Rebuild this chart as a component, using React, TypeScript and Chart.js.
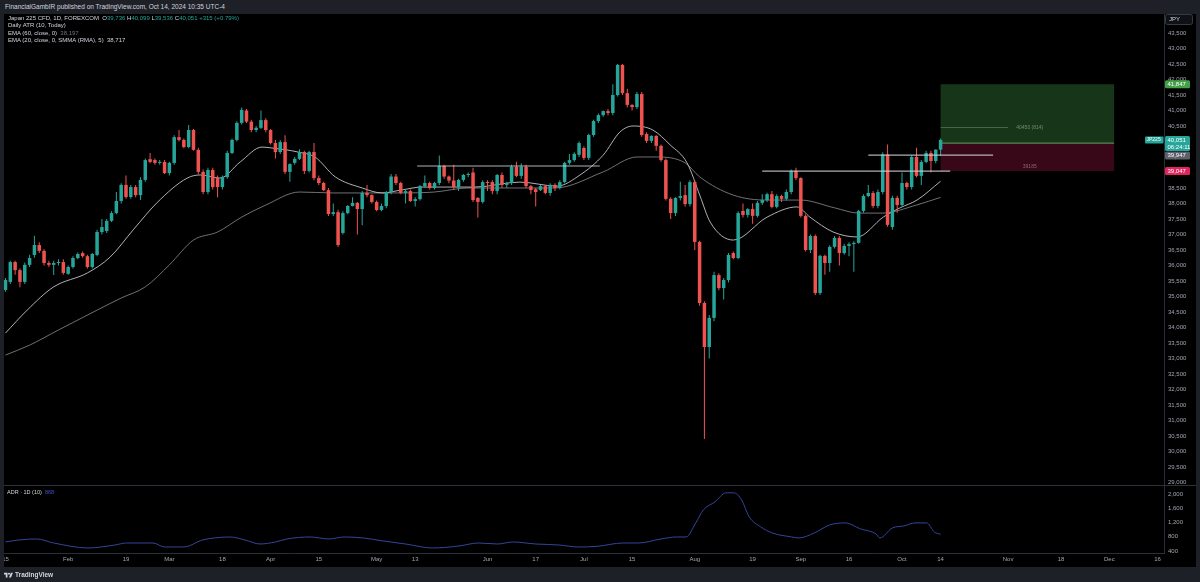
import React, { useEffect, useRef } from "react";
import { Chart, registerables } from "chart.js";

Chart.register(...registerables);

const FONT = '"Liberation Sans", Arial, Helvetica, sans-serif';
const UP = "#26a69a";
const DOWN = "#ef5350";
const TICK = "#a3a6af";
const BORDER = "#2a2e39";

// ---- daily OHLC, Japan 225 CFD, Jan 15 .. Oct 14 2024 (one per trading day) ----
const opens = [
  35210, 35470, 36110, 35850, 35470, 36020, 36340, 36660, 36470, 36080,
  36020, 36080, 36110, 35730, 35950, 36240, 36400, 36300, 35950, 36340,
  37080, 37110, 37440, 37690, 38080, 38600, 38210, 38530, 38270, 38760,
  39430, 39400, 39310, 39340, 38980, 39310, 40140, 40050, 39820, 40370,
  39730, 39020, 38370, 39080, 38820, 38530, 38850, 39630, 40050, 40600,
  41000, 40640, 40370, 40440, 40690, 40370, 39950, 39660, 39980, 39020,
  39310, 39440, 39660, 39050, 39660, 38820, 38660, 38430, 37660, 37720,
  37050, 37690, 37920, 38020, 37820, 38340, 38270, 38050, 37790, 37920,
  38370, 38870, 38660, 38340, 38400, 38080, 38140, 38560, 38660, 38500,
  38660, 39210, 38870, 38740, 38530, 38760, 38920, 39000, 38180, 38050,
  38690, 38690, 38400, 38920, 38600, 38660, 39180, 38890, 39180, 38560,
  38460, 38430, 38560, 38340, 38600, 38500, 38690, 39310, 39400, 39570,
  39790, 39470, 40210, 40660, 40850, 40980, 40920, 41500, 42470, 41560,
  41180, 41110, 41530, 40240, 40020, 40180, 39860, 39400, 38150, 37690,
  38180, 38270, 37980, 38690, 36760, 34790, 33370, 34310, 35690, 35270,
  35530, 36400, 36240, 37760, 37630, 37820, 37600, 38020, 38110, 38300,
  37890, 38240, 38150, 38370, 39050, 38820, 37600, 36500, 36950, 35110,
  36310, 36080, 36600, 36890, 36400, 36630, 36690, 36730, 37760, 38240,
  38340, 37920, 38370, 39580, 37240, 38180, 37950, 38660, 38530, 39500,
  38890, 39340, 39630, 39370, 39736,
];
const highs = [
  35600, 36150, 36150, 35900, 36100, 36350, 36960, 36750, 36520, 36150,
  36150, 36200, 36200, 36000, 36300, 36420, 36450, 36350, 36400, 37150,
  37500, 37500, 37750, 38370, 38650, 38900, 38600, 38600, 38850, 39450,
  39630, 39450, 39400, 39400, 39350, 40200, 40370, 40100, 40530, 40400,
  39800, 39100, 39150, 39150, 38900, 38900, 39700, 40100, 40650, 41100,
  41050, 40700, 40500, 41000, 40750, 40400, 40050, 40050, 40200, 39300,
  39500, 39750, 39700, 39700, 39950, 38900, 38700, 38500, 38000, 37800,
  37750, 37950, 38200, 38050, 38400, 38600, 38300, 38100, 38000, 38400,
  38950, 38950, 38700, 38450, 38450, 38200, 38600, 38900, 38700, 38700,
  39550, 39250, 38900, 39250, 38800, 38950, 39000, 39150, 38200, 38750,
  38750, 38750, 38950, 39000, 38700, 39250, 39350, 39300, 39250, 38600,
  38500, 38600, 38600, 38650, 38650, 38750, 39350, 39600, 39650, 40000,
  39850, 40250, 40700, 40900, 41000, 41050, 41850, 42500, 42500, 41700,
  41200, 41600, 41600, 40300, 40200, 40200, 39900, 39450, 38200, 38200,
  38700, 38600, 38750, 38750, 36800, 34850, 34400, 35800, 35750, 35600,
  36400, 36450, 37750, 38000, 37850, 38000, 38080, 38300, 38350, 38400,
  38300, 38280, 38450, 39100, 39150, 38850, 37650, 37000, 37000, 36350,
  36350, 36650, 36950, 36950, 36700, 36750, 36780, 37800, 38300, 38600,
  38400, 38450, 39650, 39900, 38250, 38250, 39000, 38700, 39550, 39800,
  39400, 39700, 39700, 39750, 40099,
];
const lows = [
  35150, 35400, 35700, 35300, 35400, 35950, 36250, 36400, 36000, 35950,
  35690, 36000, 35700, 35700, 35900, 36200, 36250, 35900, 35900, 36300,
  37000, 37050, 37400, 37650, 38000, 38150, 38150, 38200, 38110, 38700,
  39300, 39250, 39250, 38950, 38900, 39250, 40000, 39780, 39780, 39700,
  38950, 38300, 38300, 38450, 38200, 38450, 38800, 39600, 40000, 40550,
  40600, 40300, 40300, 40400, 40300, 39900, 39450, 39600, 38950, 38700,
  39250, 39400, 38950, 39000, 38750, 38600, 38400, 37600, 37600, 36600,
  37000, 37650, 37900, 37000, 37300, 38200, 38000, 37750, 37750, 37850,
  38300, 38600, 38300, 38000, 38050, 37900, 38100, 38500, 38450, 38450,
  38600, 38800, 38650, 38450, 38400, 38700, 38850, 38050, 37550, 38000,
  38400, 38300, 38300, 38500, 38500, 38600, 38850, 38800, 38500, 38300,
  37900, 38400, 38300, 38250, 38400, 38450, 38650, 39250, 39350, 39500,
  39400, 39400, 40150, 40600, 40800, 40850, 40850, 41450, 41500, 41100,
  41000, 41050, 40150, 39950, 39950, 39700, 39350, 38100, 37500, 37600,
  38100, 37900, 37900, 36500, 34700, 30400, 33000, 34200, 35200, 34900,
  35450, 36200, 36200, 37550, 37550, 37350, 37550, 37950, 38050, 37850,
  37850, 38050, 38100, 38300, 38750, 37550, 36450, 36400, 35050, 35050,
  35700, 35800, 36550, 36000, 36350, 36300, 35800, 36700, 37700, 38200,
  37850, 37850, 38300, 37250, 37150, 37700, 37900, 38450, 38450, 38850,
  38600, 39300, 39000, 39300, 39536,
];
const closes = [
  35530, 36110, 35850, 35470, 36020, 36240, 36660, 36470, 36080, 36020,
  36080, 36110, 35760, 35950, 36240, 36370, 36300, 35950, 36370, 37080,
  37240, 37440, 37690, 38080, 38600, 38210, 38530, 38270, 38760, 39400,
  39340, 39310, 39340, 38980, 39310, 40140, 40050, 39820, 40370, 39730,
  39020, 38370, 39080, 38530, 38530, 38850, 39630, 40050, 40600, 41020,
  40640, 40370, 40440, 40690, 40370, 39950, 39660, 39980, 39020, 39270,
  39440, 39660, 39050, 39660, 38820, 38660, 38430, 37660, 37720, 36660,
  37690, 37920, 38020, 37820, 38340, 38270, 38050, 37790, 37920, 38370,
  38870, 38660, 38340, 38400, 38080, 38140, 38560, 38660, 38500, 38660,
  39210, 38870, 38740, 38530, 38760, 38920, 38950, 38110, 38050, 38690,
  38660, 38400, 38920, 38600, 38660, 39180, 38890, 39180, 38560, 38430,
  38370, 38560, 38340, 38600, 38500, 38690, 39310, 39400, 39600, 39950,
  39470, 40210, 40660, 40850, 40980, 40920, 41500, 42470, 41560, 41180,
  41110, 41530, 40210, 40020, 40180, 39860, 39400, 38150, 37690, 38180,
  38240, 37980, 38690, 36760, 34790, 33370, 34310, 35690, 35270, 35530,
  36340, 36240, 37690, 37630, 37820, 37600, 38020, 38110, 38300, 37890,
  38240, 38150, 38370, 39050, 38820, 37600, 36500, 36950, 35110, 36310,
  36080, 36600, 36890, 36400, 36630, 36690, 36730, 37760, 38240, 38340,
  37920, 38370, 39580, 37310, 38180, 37950, 38660, 38530, 39500, 38890,
  39340, 39630, 39370, 39736, 40051,
];

// ---- EMA (60) (bar index, value) ----
const ema60Idx = [0, 5, 11, 19, 24, 29, 34, 39, 44, 49, 54, 61, 68, 75, 82, 89, 96, 114, 124, 131, 135, 141, 144, 151, 158, 165, 172, 177, 182, 189, 194];
const ema60Val = [33110, 33430, 33920, 34560, 34950, 35310, 36020, 36820, 37080, 37560, 37950, 38370, 38340, 38340, 38340, 38370, 38500, 38500, 39020, 39500, 39500, 39310, 38860, 38270, 38110, 38110, 37860, 37690, 37690, 37950, 38197];

// ---- EMA (20) smoothed SMMA 5 ----
const ema20Idx = [0, 4.5, 10, 17, 21.7, 26.5, 31.4, 37.7, 40.4, 44.5, 48.7, 53.2, 55.3, 60.7, 64.2, 68.4, 74, 78.1, 82.3, 86.4, 91.8, 97.4, 106.7, 114.4, 119.2, 124, 127.5, 130.2, 134.3, 137.9, 141.4, 144.1, 146.2, 151, 158, 164.2, 166.9, 171.7, 176.7, 182.1, 185.6, 189.1, 194];
const ema20Val = [33820, 34560, 35310, 35760, 36270, 37150, 38020, 38820, 38920, 38820, 39340, 39820, 39790, 39660, 39500, 38860, 38500, 38340, 38440, 38530, 38530, 38530, 38690, 38560, 38920, 39560, 40310, 40500, 40370, 39890, 39310, 38240, 37400, 36820, 37560, 37890, 37560, 37080, 36920, 37560, 37860, 38110, 38717];

// ---- ADR 1D (10) ----
const adrIdx = [0, 2.8, 6.4, 10, 17.1, 22.7, 25.1, 30.6, 33, 37, 40.9, 43.3, 46.5, 49.7, 52.8, 56, 58.4, 63.2, 67.1, 70.3, 74.3, 78.3, 83, 88.6, 94.1, 98.1, 102.1, 105.2, 110, 114.8, 118.8, 122.7, 128.1, 131.3, 136, 139.2, 141.2, 143.2, 144.8, 147.2, 149.5, 151.1, 152.7, 154.3, 156.7, 159.1, 163.1, 164.6, 167.8, 171, 174.2, 177.4, 180.6, 181.4, 184, 186.4, 188.7, 191.1, 192.7, 194];
const adrVal = [654, 710, 738, 625, 485, 569, 625, 625, 513, 513, 710, 766, 794, 710, 597, 654, 738, 794, 738, 794, 766, 682, 597, 485, 541, 625, 597, 654, 597, 569, 513, 530, 625, 625, 738, 794, 794, 1189, 1555, 1780, 2034, 2034, 1837, 1358, 1076, 907, 794, 766, 907, 1132, 1189, 1020, 879, 766, 1048, 1104, 1189, 1189, 935, 868];

// ---- axis ticks ----
const priceTickValues = [
  29000, 29500, 30000, 30500, 31000, 31500, 32000, 32500, 33000, 33500,
  34000, 34500, 35000, 35500, 36000, 36500, 37000, 37500, 38000, 38500,
  39000, 39500, 40000, 40500, 41000, 41500, 42000, 42500, 43000, 43500,
];
const adrTickValues = [400, 800, 1200, 1600, 2000];
const dateTickIdx = [0, 13, 25, 34, 45, 55, 65, 77, 85, 100, 110, 120, 130, 143, 155, 165, 175, 186, 194, 208, 219, 229, 239];
const dateTickLabels = ["15", "Feb", "19", "Mar", "18", "Apr", "15", "May", "13", "Jun", "17", "Jul", "15", "Aug", "19", "Sep", "16", "Oct", "14", "Nov", "18", "Dec", "16"];

// ---- drawn horizontal lines ----
const hLineFrom = [85.4, 157, 179];
const hLineTo = [123.3, 196, 204.9];
const hLinePrice = [39210, 39047, 39560];

// ---- long position tool ----
const posStart = 194;
const posEnd = 230;
const posTarget = 41847;
const posEntry = 39947;
const posStop = 39047;
const posNotePrice = 40450;
const posNoteText = "40450 (814)";
const posStopNotePrice = 39180;
const posStopNoteText = "39185";
const countdown = "06:24:11";

const X_MIN = -0.31;
const X_MAX = 240.35;
const Y_MIN = 28918;
const Y_MAX = 44113;
const ADR_MIN = 344;
const ADR_MAX = 2225;

const fmt = (v: number) => Math.round(v).toLocaleString("en-US");

const positionPlugin = {
  id: "positionTool",
  beforeDatasetsDraw(chart: any) {
    const { ctx, chartArea, scales } = chart;
    const x = scales.x;
    const y = scales.y;
    const x0 = x.getPixelForValue(posStart);
    const x1 = x.getPixelForValue(posEnd);
    const yT = y.getPixelForValue(posTarget);
    const yE = y.getPixelForValue(posEntry);
    const yS = y.getPixelForValue(posStop);
    ctx.save();
    ctx.beginPath();
    ctx.rect(chartArea.left, chartArea.top, chartArea.right - chartArea.left, chartArea.bottom - chartArea.top);
    ctx.clip();
    ctx.fillStyle = "rgba(76,175,80,0.30)";
    ctx.fillRect(x0, yT, x1 - x0, yE - yT);
    ctx.fillStyle = "rgba(233,30,99,0.24)";
    ctx.fillRect(x0, yE, x1 - x0, yS - yE);
    ctx.strokeStyle = "rgba(110,170,110,0.9)";
    ctx.lineWidth = 1;
    ctx.beginPath();
    ctx.moveTo(x0, yE);
    ctx.lineTo(x1, yE);
    ctx.stroke();
    const yN = y.getPixelForValue(posNotePrice);
    ctx.strokeStyle = "rgba(140,160,140,0.45)";
    ctx.beginPath();
    ctx.moveTo(x0, yN);
    ctx.lineTo(x.getPixelForValue(208), yN);
    ctx.stroke();
    ctx.font = `5px ${FONT}`;
    ctx.textBaseline = "middle";
    ctx.textAlign = "center";
    ctx.fillStyle = "rgba(150,165,150,0.75)";
    ctx.fillText(posNoteText, x.getPixelForValue(212.5), yN);
    ctx.fillStyle = "rgba(170,130,145,0.75)";
    ctx.fillText(posStopNoteText, x.getPixelForValue(212.5), y.getPixelForValue(posStopNotePrice));
    ctx.restore();
  },
};

const labelPlugin = {
  id: "priceLabels",
  afterDraw(chart: any) {
    const { ctx, chartArea, scales } = chart;
    const y = scales.y;
    const ax = chartArea.right + 1;
    const w = 25;
    ctx.save();
    ctx.font = `6px ${FONT}`;
    ctx.textBaseline = "middle";
    ctx.textAlign = "left";
    const box = (top: number, h: number, bg: string, lines: string[], fg: string) => {
      ctx.fillStyle = bg;
      ctx.beginPath();
      ctx.roundRect(ax, top, w, h, 1.5);
      ctx.fill();
      ctx.fillStyle = fg;
      lines.forEach((t, i) => ctx.fillText(t, ax + 2.5, top + 4 + i * 7));
    };
    const last = closes.length - 1;
    const yTg = y.getPixelForValue(posTarget);
    box(yTg - 4, 8, "#43a047", [fmt(posTarget)], "#ffffff");
    const yC = y.getPixelForValue(closes[last]);
    const cTop = yC - 4;
    box(cTop, 15, UP, [fmt(closes[last]), countdown], "#ffffff");
    const yE = y.getPixelForValue(posEntry);
    const eTop = Math.max(yE - 4, cTop + 15.5);
    box(eTop, 8, "#5d606b", [fmt(posEntry)], "#ffffff");
    const yS = y.getPixelForValue(posStop);
    box(yS - 4, 8, "#e0245e", [fmt(posStop)], "#ffffff");
    ctx.fillStyle = UP;
    ctx.beginPath();
    ctx.roundRect(chartArea.right - 19, yC - 3.5, 18.5, 7, 1);
    ctx.fill();
    ctx.fillStyle = "#ffffff";
    ctx.font = `5px ${FONT}`;
    ctx.fillText("JP225", chartArea.right - 17.5, yC);
    ctx.font = `6px ${FONT}`;
    ctx.fillStyle = "#0f1117";
    ctx.strokeStyle = "#363a45";
    ctx.beginPath();
    ctx.roundRect(ax + 0.5, 0.5, 27, 10, 2);
    ctx.fill();
    ctx.stroke();
    ctx.fillStyle = "#d1d4dc";
    ctx.fillText("JPY", ax + 4, 5.8);
    ctx.restore();
  },
};

export default function App() {
  const mainRef = useRef<HTMLCanvasElement>(null);
  const adrRef = useRef<HTMLCanvasElement>(null);

  useEffect(() => {
    const idx = closes.map((_, i) => i);
    const colors = closes.map((c, i) => (c >= opens[i] ? UP : DOWN));
    const wickData = idx.map((i) => ({ x: i, y: [lows[i], highs[i]] }));
    const bodyData = idx.map((i) => ({ x: i, y: [opens[i], closes[i]] }));
    const hLineSets = hLinePrice.map((p, k) => ({
      type: "line" as const,
      data: [
        { x: hLineFrom[k], y: p },
        { x: hLineTo[k], y: p },
      ],
      borderColor: "rgba(205,208,215,0.85)",
      borderWidth: 1.2,
      pointRadius: 0,
      order: 0,
    }));

    const main = new Chart(mainRef.current as HTMLCanvasElement, {
      type: "bar",
      data: {
        datasets: [
          ...hLineSets,
          {
            type: "bar",
            data: bodyData as any,
            backgroundColor: colors,
            barThickness: 3.5,
            minBarLength: 1,
            grouped: false,
            borderWidth: 0,
            inflateAmount: 0,
            order: 1,
          } as any,
          {
            type: "bar",
            data: wickData as any,
            backgroundColor: colors,
            barThickness: 1,
            grouped: false,
            borderWidth: 0,
            inflateAmount: 0,
            order: 2,
          } as any,
          {
            type: "line",
            data: ema20Idx.map((x, i) => ({ x, y: ema20Val[i] })),
            borderColor: "rgba(205,207,212,0.85)",
            borderWidth: 1,
            pointRadius: 0,
            cubicInterpolationMode: "monotone",
            order: 3,
          } as any,
          {
            type: "line",
            data: ema60Idx.map((x, i) => ({ x, y: ema60Val[i] })),
            borderColor: "rgba(130,132,140,0.85)",
            borderWidth: 1,
            pointRadius: 0,
            cubicInterpolationMode: "monotone",
            order: 4,
          } as any,
        ],
      },
      options: {
        animation: false,
        responsive: false,
        maintainAspectRatio: false,
        devicePixelRatio: 1,
        events: [],
        layout: { padding: 0 },
        plugins: { legend: { display: false }, tooltip: { enabled: false } },
        scales: {
          x: { type: "linear", min: X_MIN, max: X_MAX, display: false, offset: false },
          y: {
            type: "linear",
            position: "right",
            min: Y_MIN,
            max: Y_MAX,
            grid: { display: false, drawTicks: false },
            border: { display: true, color: BORDER },
            ticks: {
              autoSkip: false,
              padding: 4,
              color: TICK,
              font: { size: 6, family: FONT },
              callback: (v: any) => fmt(Number(v)),
            },
            afterBuildTicks: (s: any) => {
              s.ticks = priceTickValues.map((v) => ({ value: v }));
            },
            afterFit: (s: any) => {
              s.width = 32;
              s.paddingTop = 0;
              s.paddingBottom = 0;
            },
          },
        },
      } as any,
      plugins: [positionPlugin, labelPlugin],
    });

    const adr = new Chart(adrRef.current as HTMLCanvasElement, {
      type: "line",
      data: {
        datasets: [
          {
            data: adrIdx.map((x, i) => ({ x, y: adrVal[i] })),
            borderColor: "#34459a",
            borderWidth: 1,
            pointRadius: 0,
            cubicInterpolationMode: "monotone",
          },
        ],
      },
      options: {
        animation: false,
        responsive: false,
        maintainAspectRatio: false,
        devicePixelRatio: 1,
        events: [],
        layout: { padding: 0 },
        plugins: { legend: { display: false }, tooltip: { enabled: false } },
        scales: {
          x: {
            type: "linear",
            min: X_MIN,
            max: X_MAX,
            offset: false,
            grid: { display: false, drawTicks: false },
            border: { display: true, color: BORDER },
            ticks: {
              autoSkip: false,
              maxRotation: 0,
              padding: 3,
              color: TICK,
              font: { size: 6, family: FONT },
              callback: (_v: any, i: number) => dateTickLabels[i] ?? "",
            },
            afterBuildTicks: (s: any) => {
              s.ticks = dateTickIdx.map((v) => ({ value: v }));
            },
            afterFit: (s: any) => {
              s.height = 14;
              s.paddingLeft = 0;
              s.paddingRight = 0;
            },
          },
          y: {
            type: "linear",
            position: "right",
            min: ADR_MIN,
            max: ADR_MAX,
            grid: { display: false, drawTicks: false },
            border: { display: true, color: BORDER },
            ticks: {
              autoSkip: false,
              padding: 4,
              color: TICK,
              font: { size: 6, family: FONT },
              callback: (v: any) => fmt(Number(v)),
            },
            afterBuildTicks: (s: any) => {
              s.ticks = adrTickValues.map((v) => ({ value: v }));
            },
            afterFit: (s: any) => {
              s.width = 32;
              s.paddingTop = 0;
              s.paddingBottom = 0;
            },
          },
        },
      } as any,
    });

    return () => {
      main.destroy();
      adr.destroy();
    };
  }, []);

  const last = closes.length - 1;
  const chg = closes[last] - closes[last - 1];
  const pct = (chg / closes[last - 1]) * 100;
  const teal = { color: UP };
  const txt = "#d1d4dc";

  return (
    <div
      style={{
        position: "fixed",
        left: 0,
        top: 0,
        width: 1200,
        height: 582,
        background: "#1e2028",
        overflow: "hidden",
        fontFamily: FONT,
      }}
    >
      <div style={{ position: "absolute", left: 5, top: 1, fontSize: 6.5, lineHeight: "11px", color: txt, whiteSpace: "nowrap" }}>
        FinancialGambIR published on TradingView.com, Oct 14, 2024 10:35 UTC-4
      </div>
      <div style={{ position: "absolute", left: 4, top: 14, width: 1192, height: 553, background: "#000" }}>
        <canvas ref={mainRef} width={1192} height={471} style={{ position: "absolute", left: 0, top: 0, display: "block" }} />
        <div style={{ position: "absolute", left: 0, top: 471, width: 1192, height: 1, background: "#2e313b" }} />
        <canvas ref={adrRef} width={1192} height={81} style={{ position: "absolute", left: 0, top: 472, display: "block" }} />
        <div style={{ position: "absolute", left: 4, top: 0.5, fontSize: 6, lineHeight: "7.5px", color: txt, whiteSpace: "nowrap" }}>
          <div>
            Japan 225 CFD, 1D, FOREXCOM&nbsp;&nbsp;O<span style={teal}>{fmt(opens[last])}</span>&nbsp;H
            <span style={teal}>{fmt(highs[last])}</span>&nbsp;L<span style={teal}>{fmt(lows[last])}</span>&nbsp;C
            <span style={teal}>{fmt(closes[last])}</span>&nbsp;
            <span style={teal}>
              {chg >= 0 ? "+" : ""}
              {fmt(chg)} ({chg >= 0 ? "+" : ""}
              {pct.toFixed(2)}%)
            </span>
          </div>
          <div>Daily ATR (10, Today)</div>
          <div>
            EMA (60, close, 0)&nbsp;&nbsp;<span style={{ color: "#6f727c" }}>{fmt(ema60Val[ema60Val.length - 1])}</span>
          </div>
          <div>
            EMA (20, close, 0, SMMA (RMA), 5)&nbsp;&nbsp;<span style={{ color: txt }}>{fmt(ema20Val[ema20Val.length - 1])}</span>
          </div>
        </div>
        <div style={{ position: "absolute", left: 3, top: 475, fontSize: 5.5, lineHeight: "7px", color: txt, whiteSpace: "nowrap" }}>
          ADR · 1D (10)&nbsp;&nbsp;<span style={{ color: "#3d54c8" }}>{fmt(adrVal[adrVal.length - 1])}</span>
        </div>
      </div>
      <div style={{ position: "absolute", left: 4, top: 571, display: "flex", alignItems: "center", gap: 2, color: txt, fontSize: 6.5, lineHeight: "8px" }}>
        <svg width="9" height="6" viewBox="0 0 36 24">
          <path d="M14 22H7V10H0V3h14v19zM28 22h-8l7.5-19h8L28 22z" fill={txt} />
          <circle cx="20" cy="7" r="4" fill={txt} />
        </svg>
        <span style={{ fontWeight: 600 }}>TradingView</span>
      </div>
    </div>
  );
}
